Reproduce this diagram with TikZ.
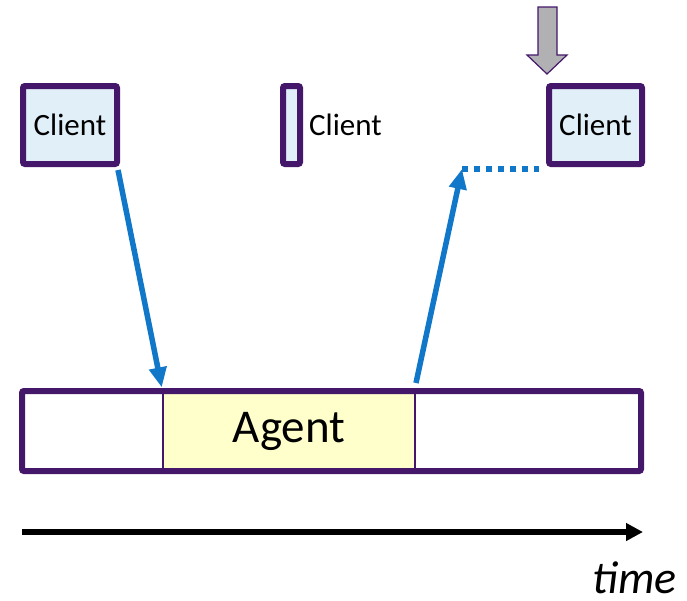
\documentclass[tikz,border=0pt]{standalone}
\usepackage{fontspec}
\setmainfont{Carlito}
\usetikzlibrary{arrows.meta}
\definecolor{purp}{HTML}{44176A}
\definecolor{bluearr}{HTML}{1177C8}
\definecolor{clientfill}{HTML}{E1EFF9}
\definecolor{agentfill}{HTML}{FFFFCC}
\definecolor{grayarr}{HTML}{B1B1B3}
\tikzset{
  clientbox/.style={draw=purp, line width=6pt, fill=clientfill, rounded corners=2pt, inner sep=0pt, minimum height=78pt, font=\fontsize{31}{31}\selectfont},
  labeltext/.style={inner sep=0pt, font=\fontsize{31}{31}\selectfont},
  agentbox/.style={draw=purp, line width=1.3pt, fill=agentfill, inner sep=0pt, minimum width=252pt, minimum height=80pt, font=\fontsize{47}{47}\selectfont},
  barframe/.style={draw=purp, line width=6pt, rounded corners=2pt, inner sep=0pt, minimum width=619pt, minimum height=80pt},
  bluearrow/.style={draw=bluearr, line width=5.5pt, -{Triangle[length=20pt,width=17pt]}},
  bluedots/.style={draw=bluearr, line width=6pt, dash pattern=on 6pt off 6pt},
}
\begin{document}
\begin{tikzpicture}[x=1pt,y=-1pt]
\useasboundingbox (0,0) rectangle (687,600);
% clients
\node[clientbox, minimum width=94pt] (c1) at (70,125) {Client};
\node[clientbox, minimum width=17pt] (c2) at (291.5,125) {};
\node[labeltext, anchor=west] (c2t) at (309,125) {Client};
\node[clientbox, minimum width=93pt] (c3) at (595.5,125) {Client};
% gray arrow
\draw[draw=purp, line width=1.2pt, fill=grayarr] (538,7) -- (557,7) -- (557,55) -- (567,55) -- (547,74) -- (527,55) -- (538,55) -- cycle;
% agent bar
\node[agentbox] (agent) at (289,431) {Agent};
\node[barframe] (bar) at (331.5,431) {};
% connectors
\coordinate (s1) at (118,170);
\coordinate (s2) at (416,383);
\coordinate (d0) at (462,169);
\coordinate (d1) at (539,169);
\draw[bluearrow, shorten >=3pt] (s1) -- (agent.north west);
\draw[bluearrow] (s2) -- (d0);
\draw[bluedots] (d0) -- (d1);
% time axis
\coordinate (t0) at (22,532);
\coordinate (t1) at (643,532);
\draw[line width=6pt, -{Triangle[length=17pt,width=17pt]}] (t0) -- (t1);
\node[anchor=base east, inner sep=0pt, font=\fontsize{46}{46}\selectfont\itshape] (time) at (677,593) {time};
\end{tikzpicture}
\end{document}
